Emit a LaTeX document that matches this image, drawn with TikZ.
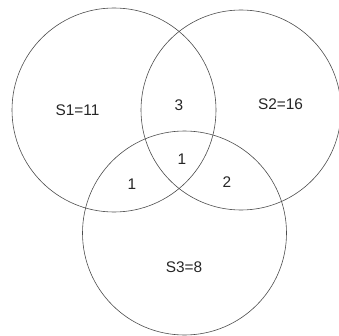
\documentclass[tikz,border=0pt]{standalone}
\usepackage{fontspec}
\setmainfont{Liberation Sans}
\begin{document}
\begin{tikzpicture}[x=1pt,y=1pt,
  setcircle/.style={draw=black!70,line width=0.6pt,circle,minimum size=204pt,inner sep=0pt},
  lbl/.style={font=\fontsize{15.4}{17}\selectfont,inner sep=0pt,text=black!85}]
\useasboundingbox (0,0) rectangle (339,335);
% the three sets
\node[setcircle] (s1) at (114,225) {};
\node[setcircle,minimum size=200pt] (s2) at (241,225) {};
\node[setcircle] (s3) at (184.5,102) {};
% region counts
\node[lbl] (t1) at (77.5,224.5) {S1=11};
\node[lbl] (t2) at (280.5,230.5) {S2=16};
\node[lbl] (t3) at (184,68) {S3=8};
\node[lbl] (n12) at (179,230) {3};
\node[lbl] (n123) at (182,176) {1};
\node[lbl] (n13) at (132,151) {1};
\node[lbl] (n23) at (227,153) {2};
\end{tikzpicture}
\end{document}
